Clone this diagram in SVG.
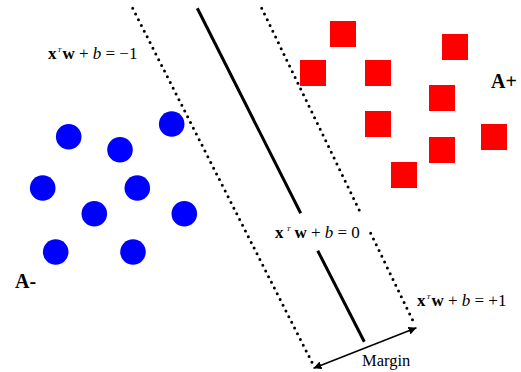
<svg xmlns="http://www.w3.org/2000/svg" width="521" height="372" viewBox="0 0 521 372">
<style>
.pt-a{fill:#0000ff}
.pt-b{fill:#ff0000}
.dot{fill:none;stroke:#000;stroke-width:3;stroke-linecap:round;stroke-dasharray:0 6.4}
.solid{fill:none;stroke:#000;stroke-width:3}
.arr{fill:none;stroke:#000;stroke-width:1.5}
.eq{font-family:"Liberation Serif","Times New Roman",serif;font-size:17px;fill:#000}
.b{font-weight:bold}
.i{font-style:italic}
.sup{font-style:italic;font-size:7px}
.cls{font-family:"Liberation Serif","Times New Roman",serif;font-size:20px;font-weight:bold;fill:#000}
.lbl{font-family:"Liberation Serif","Times New Roman",serif;font-size:16.5px;fill:#000}
</style>
<defs>
<marker id="ah" viewBox="0 0 10 10" refX="10" refY="5" markerWidth="8" markerHeight="8" markerUnits="userSpaceOnUse" orient="auto-start-reverse">
<path d="M0,0 L10,5 L0,10 Z" fill="#000"/>
</marker>
</defs>
<rect width="521" height="372" fill="#fff"/>
<g id="connectors">
<line class="dot" x1="132.7" y1="8.3" x2="313.3" y2="365"/>
<line class="solid" x1="197.3" y1="8.3" x2="300.7" y2="213.3"/>
<line class="solid" x1="317.7" y1="250.7" x2="364.3" y2="341.7"/>
<line class="dot" x1="261.7" y1="8.3" x2="360" y2="211.7"/>
<line class="dot" x1="370.7" y1="233.3" x2="415" y2="325"/>
<line class="arr" x1="313.5" y1="368.2" x2="416.5" y2="327.8" marker-start="url(#ah)" marker-end="url(#ah)"/>
</g>
<g id="class-minus">
<circle class="pt-a" cx="68.7" cy="136.7" r="12.8"/>
<circle class="pt-a" cx="120" cy="149.7" r="12.8"/>
<circle class="pt-a" cx="171.7" cy="124" r="12.8"/>
<circle class="pt-a" cx="42.7" cy="188" r="12.8"/>
<circle class="pt-a" cx="137.3" cy="188" r="12.8"/>
<circle class="pt-a" cx="94.3" cy="213.7" r="12.8"/>
<circle class="pt-a" cx="184.3" cy="213.7" r="12.8"/>
<circle class="pt-a" cx="55.7" cy="252" r="12.8"/>
<circle class="pt-a" cx="133" cy="252" r="12.8"/>
</g>
<g id="class-plus">
<rect class="pt-b" x="330" y="21" width="26" height="26"/>
<rect class="pt-b" x="442" y="34" width="26" height="26"/>
<rect class="pt-b" x="300" y="60" width="26" height="26"/>
<rect class="pt-b" x="365" y="60" width="26" height="26"/>
<rect class="pt-b" x="429" y="85" width="26" height="26"/>
<rect class="pt-b" x="365" y="111" width="26" height="26"/>
<rect class="pt-b" x="481" y="124" width="26" height="26"/>
<rect class="pt-b" x="429" y="137" width="26" height="26"/>
<rect class="pt-b" x="391" y="162" width="26" height="26"/>
</g>
<g id="label-minus1">
<text class="eq" x="48" y="59"><tspan class="b">x</tspan><tspan class="sup" dy="-7" dx="1">T</tspan><tspan class="b" dy="7" dx="1">w</tspan> + <tspan class="i">b</tspan> = −1</text>
</g>
<g id="label-zero">
<text class="eq" x="275" y="238"><tspan class="b">x</tspan><tspan class="sup" dy="-7" dx="3">T</tspan><tspan class="b" dy="7" dx="4">w</tspan> + <tspan class="i">b</tspan> = 0</text>
</g>
<g id="label-plus1">
<text class="eq" x="417" y="306"><tspan class="b">x</tspan><tspan class="sup" dy="-7" dx="1">T</tspan><tspan class="b" dy="7" dx="1">w</tspan> + <tspan class="i">b</tspan> = +1</text>
</g>
<g id="A-minus"><text class="cls" x="15" y="288">A-</text></g>
<g id="A-plus"><text class="cls" x="491" y="88">A+</text></g>
<g id="margin-label"><text class="lbl" x="362" y="366">Margin</text></g>
</svg>
